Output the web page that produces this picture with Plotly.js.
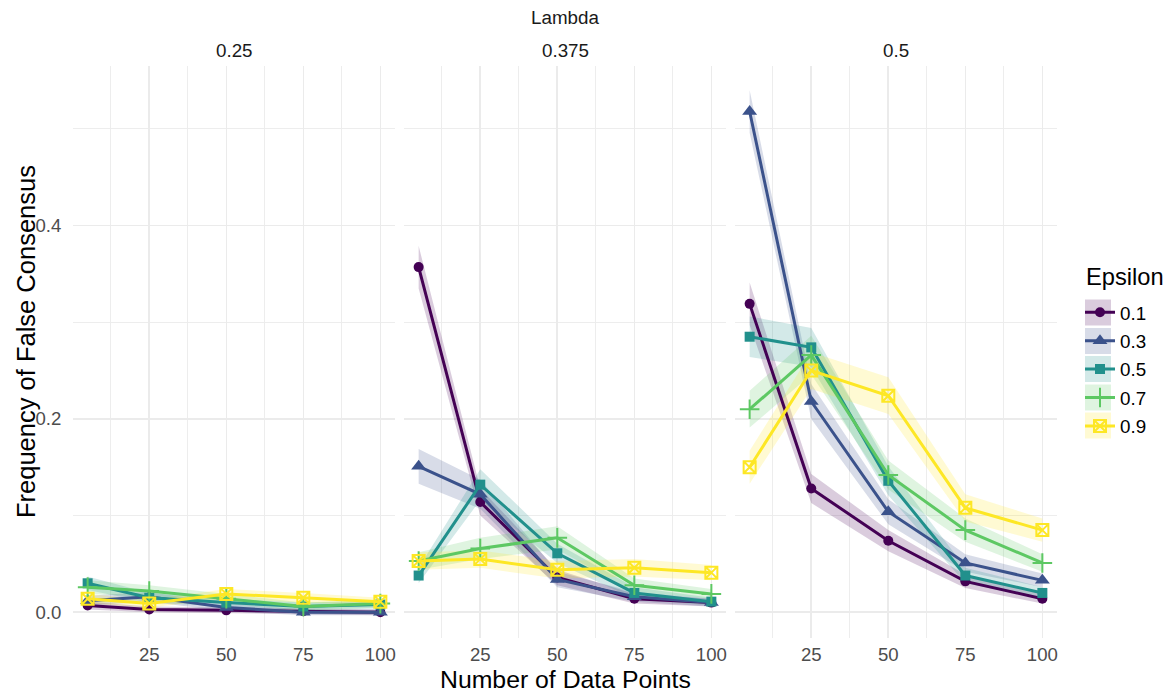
<!DOCTYPE html>
<html>
<head>
<meta charset="utf-8">
<script src="https://cdn.plot.ly/plotly-3.0.1.min.js"></script>
<style>
  html, body { margin: 0; padding: 0; background: #ffffff; }
  #chart { width: 1173px; height: 695px; }
</style>
</head>
<body>
<div id="chart"></div>
<script>
// ---------------- data ----------------
const dataPoints = [5, 25, 50, 75, 100];
const lambdaLabels = ['0.25', '0.375', '0.5'];
const epsilonLabels = ['0.1', '0.3', '0.5', '0.7', '0.9'];
const xTickValues = [25, 50, 75, 100];
const yTickValues = [0, 0.2, 0.4];

// Lambda = 0.25 : mean frequency of false consensus per epsilon
const lam025_eps01 = [0.007, 0.003, 0.002, 0.001, 0.000];
const lam025_eps03 = [0.012, 0.016, 0.005, 0.000, 0.000];
const lam025_eps05 = [0.030, 0.015, 0.010, 0.006, 0.008];
const lam025_eps07 = [0.026, 0.022, 0.014, 0.006, 0.009];
const lam025_eps09 = [0.014, 0.009, 0.019, 0.015, 0.011];
// Lambda = 0.375
const lam0375_eps01 = [0.357, 0.114, 0.036, 0.014, 0.010];
const lam0375_eps03 = [0.151, 0.122, 0.034, 0.016, 0.010];
const lam0375_eps05 = [0.038, 0.132, 0.061, 0.020, 0.011];
const lam0375_eps07 = [0.053, 0.066, 0.077, 0.028, 0.019];
const lam0375_eps09 = [0.053, 0.055, 0.044, 0.046, 0.041];
// Lambda = 0.5
const lam05_eps01 = [0.319, 0.128, 0.074, 0.032, 0.014];
const lam05_eps03 = [0.518, 0.218, 0.104, 0.051, 0.033];
const lam05_eps05 = [0.285, 0.274, 0.136, 0.038, 0.020];
const lam05_eps07 = [0.210, 0.266, 0.142, 0.085, 0.051];
const lam05_eps09 = [0.150, 0.250, 0.224, 0.108, 0.085];

// half-width of the confidence ribbons
const lam025_ci01 = [0.004, 0.003, 0.003, 0.003, 0.003];
const lam025_ci03 = [0.005, 0.005, 0.004, 0.003, 0.003];
const lam025_ci05 = [0.007, 0.005, 0.004, 0.004, 0.004];
const lam025_ci07 = [0.007, 0.006, 0.005, 0.004, 0.004];
const lam025_ci09 = [0.005, 0.004, 0.005, 0.005, 0.004];
const lam0375_ci01 = [0.022, 0.014, 0.008, 0.005, 0.004];
const lam0375_ci03 = [0.018, 0.015, 0.008, 0.005, 0.004];
const lam0375_ci05 = [0.008, 0.016, 0.010, 0.006, 0.004];
const lam0375_ci07 = [0.009, 0.011, 0.012, 0.007, 0.005];
const lam0375_ci09 = [0.009, 0.009, 0.009, 0.009, 0.008];
const lam05_ci01 = [0.022, 0.015, 0.011, 0.007, 0.005];
const lam05_ci03 = [0.022, 0.018, 0.013, 0.009, 0.007];
const lam05_ci05 = [0.021, 0.020, 0.015, 0.008, 0.006];
const lam05_ci07 = [0.019, 0.020, 0.015, 0.012, 0.009];
const lam05_ci09 = [0.017, 0.019, 0.019, 0.014, 0.012];

const panelSeries = [
  [lam025_eps01, lam025_eps03, lam025_eps05, lam025_eps07, lam025_eps09],
  [lam0375_eps01, lam0375_eps03, lam0375_eps05, lam0375_eps07, lam0375_eps09],
  [lam05_eps01, lam05_eps03, lam05_eps05, lam05_eps07, lam05_eps09]
];
const panelCI = [
  [lam025_ci01, lam025_ci03, lam025_ci05, lam025_ci07, lam025_ci09],
  [lam0375_ci01, lam0375_ci03, lam0375_ci05, lam0375_ci07, lam0375_ci09],
  [lam05_ci01, lam05_ci03, lam05_ci05, lam05_ci07, lam05_ci09]
];

// ---------------- styles ----------------
const lineColors = ['#440154', '#3B528B', '#21908C', '#5DC863', '#FDE725'];
const ribbonColors = ['rgba(68,1,84,0.2)', 'rgba(59,82,139,0.2)', 'rgba(33,144,140,0.2)',
                      'rgba(93,200,99,0.2)', 'rgba(253,231,37,0.2)'];
const markerSymbols = ['circle', 'triangle-up', 'square', 'cross-thin-open', 'square-x-open'];
const markerSizes = [10, 13, 10, 14, 12];

const traces = [];
const axisNames = ['', '2', '3'];

// ribbons first
panelSeries.forEach((series, p) => {
  series.forEach((vals, e) => {
    const hw = panelCI[p][e];
    const upper = vals.map((v, i) => v + hw[i]);
    const lower = vals.map((v, i) => v - hw[i]);
    traces.push({
      type: 'scatter', mode: 'lines',
      x: dataPoints.concat(dataPoints.slice().reverse()),
      y: upper.concat(lower.slice().reverse()),
      fill: 'toself', fillcolor: ribbonColors[e],
      line: { width: 0, color: ribbonColors[e] },
      hoverinfo: 'skip', showlegend: false,
      legendgroup: 'eps' + e,
      xaxis: 'x' + axisNames[p], yaxis: 'y' + axisNames[p]
    });
  });
});
// lines
panelSeries.forEach((series, p) => {
  series.forEach((vals, e) => {
    const open = markerSymbols[e].indexOf('open') >= 0;
    traces.push({
      type: 'scatter', mode: 'lines+markers',
      x: dataPoints, y: vals,
      name: epsilonLabels[e],
      legendgroup: 'eps' + e,
      showlegend: p === 0,
      line: { color: lineColors[e], width: 3 },
      marker: {
        symbol: markerSymbols[e], size: markerSizes[e], color: lineColors[e],
        line: { color: lineColors[e], width: open ? 2 : 0 }
      },
      xaxis: 'x' + axisNames[p], yaxis: 'y' + axisNames[p]
    });
  });
});

const W = 1173, H = 695;
const panelLeft = [73, 404, 735], panelWidth = 322;
const plotTop = 66, plotBottom = 638;

function xAxis(p) {
  return {
    domain: [panelLeft[p] / W, (panelLeft[p] + panelWidth) / W],
    range: [0.25, 104.75],
    tickmode: 'array', tickvals: xTickValues,
    showgrid: true, gridcolor: '#EBEBEB', gridwidth: 1.6,
    minor: { tickmode: 'array', tickvals: [12.5, 37.5, 62.5, 87.5], showgrid: true,
             gridcolor: '#EBEBEB', gridwidth: 0.9, ticks: '' },
    zeroline: false, showline: false,
    ticks: 'outside', ticklen: 0, tickcolor: 'rgba(0,0,0,0)',
    tickfont: { size: 18.6, color: '#4D4D4D' },
    anchor: 'y' + axisNames[p], fixedrange: true
  };
}
function yAxis(p) {
  return {
    domain: [(H - plotBottom) / H, (H - plotTop) / H],
    range: [-0.0266, 0.565],
    tickmode: 'array', tickvals: yTickValues, tickformat: '.1f',
    showgrid: true, gridcolor: '#EBEBEB', gridwidth: 1.6,
    minor: { tickmode: 'array', tickvals: [0.1, 0.3, 0.5], showgrid: true,
             gridcolor: '#EBEBEB', gridwidth: 0.9, ticks: '' },
    zeroline: false, showline: false,
    ticks: 'outside', ticklen: 7, tickcolor: 'rgba(0,0,0,0)',
    showticklabels: p === 0,
    tickfont: { size: 18.6, color: '#4D4D4D' },
    anchor: 'x' + axisNames[p], fixedrange: true,
    matches: p === 0 ? undefined : 'y'
  };
}

const annotations = lambdaLabels.map((lab, p) => ({
  text: lab, xref: 'paper', yref: 'paper',
  x: (panelLeft[p] + panelWidth / 2) / W, y: (H - 50) / H,
  xanchor: 'center', yanchor: 'middle', showarrow: false,
  font: { size: 18.8, color: '#1A1A1A' }
}));
annotations.push({
  text: 'Lambda', xref: 'paper', yref: 'paper',
  x: (panelLeft[1] + panelWidth / 2) / W, y: (H - 17) / H,
  xanchor: 'center', yanchor: 'middle', showarrow: false,
  font: { size: 18.8, color: '#1A1A1A' }
});
annotations.push({
  text: 'Number of Data Points', xref: 'paper', yref: 'paper',
  x: (panelLeft[1] + panelWidth / 2) / W, y: (H - 679) / H,
  xanchor: 'center', yanchor: 'middle', showarrow: false,
  font: { size: 24.8, color: '#000000' }
});
annotations.push({
  text: 'Frequency of False Consensus', xref: 'paper', yref: 'paper',
  x: 26 / W, y: (H - 342) / H, textangle: -90,
  xanchor: 'center', yanchor: 'middle', showarrow: false,
  font: { size: 25.5, color: '#000000' }
});
annotations.push({
  text: 'Epsilon', xref: 'paper', yref: 'paper',
  x: 1084 / W, y: (H - 277) / H,
  xanchor: 'left', yanchor: 'middle', showarrow: false,
  font: { size: 23.7, color: '#000000' }
});

// legend key backgrounds (ribbon colour behind each key)
const legendRowCenters = [312.5, 341, 369, 397.5, 425.5];
const shapes = legendRowCenters.map((cy, e) => ({
  type: 'rect', xref: 'paper', yref: 'paper', layer: 'above',
  x0: 1085 / W, x1: 1111 / W, y0: (H - cy - 13) / H, y1: (H - cy + 13) / H,
  fillcolor: ribbonColors[e], line: { width: 0 }
}));

const layout = {
  width: W, height: H,
  margin: { l: 0, r: 0, t: 0, b: 0 },
  paper_bgcolor: '#FFFFFF', plot_bgcolor: '#FFFFFF',
  font: { family: '"Liberation Sans", Arial, sans-serif', color: '#000000' },
  xaxis: xAxis(0), xaxis2: xAxis(1), xaxis3: xAxis(2),
  yaxis: yAxis(0), yaxis2: yAxis(1), yaxis3: yAxis(2),
  showlegend: true,
  legend: {
    x: 1080 / W, xanchor: 'left', y: (H - 293.5) / H, yanchor: 'top',
    font: { size: 18.8, color: '#000000' },
    tracegroupgap: 1, itemwidth: 30,
    bgcolor: 'rgba(0,0,0,0)'
  },
  shapes: shapes,
  annotations: annotations
};

Plotly.newPlot('chart', traces, layout, { displayModeBar: false, staticPlot: true });
</script>
</body>
</html>
